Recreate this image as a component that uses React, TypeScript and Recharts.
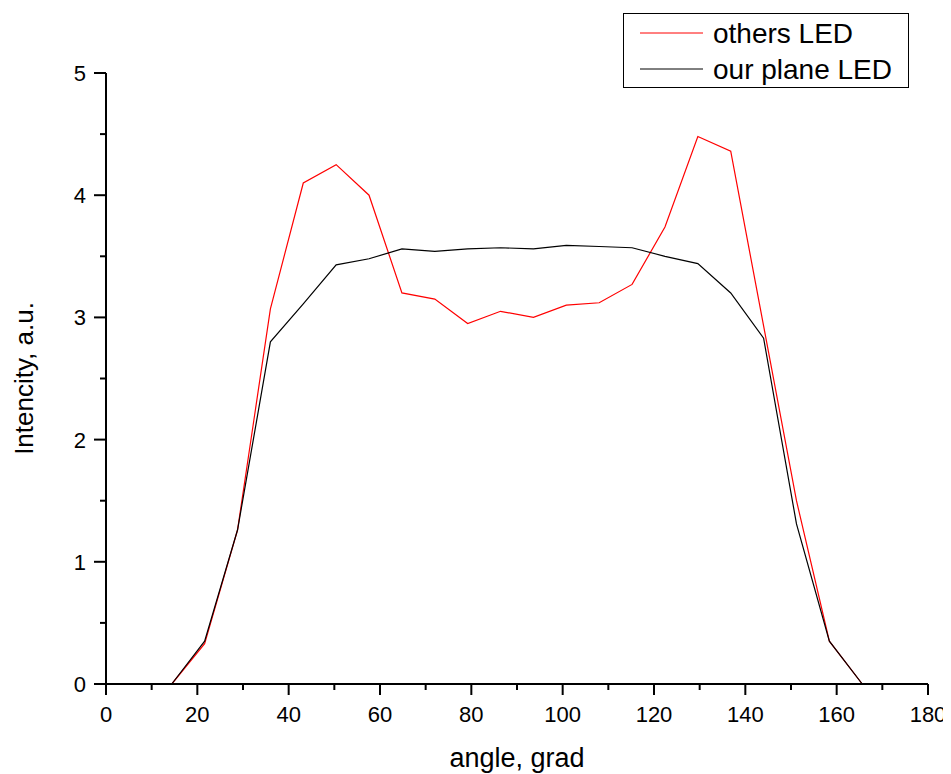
import { LineChart, Line, XAxis, YAxis, Legend } from "recharts";

// Angular intensity profile, sampled every 7.2 degrees
const angles = [14.4, 21.6, 28.8, 36, 43.2, 50.4, 57.6, 64.8, 72, 79.2, 86.4, 93.6, 100.8, 108, 115.2, 122.4, 129.6, 136.8, 144, 151.2, 158.4, 165.6];
const othersLed = [0, 0.33, 1.26, 3.07, 4.1, 4.25, 4.0, 3.2, 3.15, 2.95, 3.05, 3.0, 3.1, 3.12, 3.27, 3.74, 4.48, 4.36, 2.93, 1.5, 0.35, 0];
const ourPlaneLed = [0, 0.35, 1.26, 2.8, 3.11, 3.43, 3.48, 3.56, 3.54, 3.56, 3.57, 3.56, 3.59, 3.58, 3.57, 3.5, 3.44, 3.2, 2.83, 1.31, 0.35, 0];

const xTicks = [0, 10, 20, 30, 40, 50, 60, 70, 80, 90, 100, 110, 120, 130, 140, 150, 160, 170, 180];
const yTicks = [0, 0.5, 1, 1.5, 2, 2.5, 3, 3.5, 4, 4.5, 5];

const data = angles.map((angle, i) => ({ angle, others: othersLed[i], ours: ourPlaneLed[i] }));

const FONT = "'Liberation Sans', Arial, sans-serif";

const XTick = ({ x, y, payload }: any) => {
  const major = payload.value % 20 === 0;
  return (
    <g>
      <line x1={x} x2={x} y1={y} y2={y + (major ? 11 : 6)} stroke="#000" strokeWidth={2} />
      {major && (
        <text x={x} y={y + 38} textAnchor="middle" fontSize={22} fontFamily={FONT} fill="#000">
          {payload.value}
        </text>
      )}
    </g>
  );
};

const YTick = ({ x, y, payload }: any) => {
  const major = Number.isInteger(payload.value);
  return (
    <g>
      <line x1={x} x2={x - (major ? 12 : 6)} y1={y} y2={y} stroke="#000" strokeWidth={2} />
      {major && (
        <text x={x - 20} y={y} dy="0.36em" textAnchor="end" fontSize={22} fontFamily={FONT} fill="#000">
          {payload.value}
        </text>
      )}
    </g>
  );
};

const YTitle = ({ viewBox }: any) => {
  const cy = viewBox.y + viewBox.height / 2;
  return (
    <text x={25} y={cy} transform={`rotate(-90 25 ${cy})`} textAnchor="middle" fontSize={26} fontFamily={FONT} fill="#000">
      Intencity, a.u.
    </text>
  );
};

const LegendBox = () => (
  <svg width={286} height={75}>
    <rect x={0.5} y={0.5} width={285} height={74} fill="#fff" stroke="#000" strokeWidth={1} />
    <line x1={17} x2={80} y1={20} y2={20} stroke="#ff0000" strokeWidth={1} />
    <line x1={17} x2={80} y1={56} y2={56} stroke="#000" strokeWidth={1} />
    <text x={90} y={30} fontSize={28} fontFamily={FONT} fill="#000">others LED</text>
    <text x={90} y={66} fontSize={28} fontFamily={FONT} fill="#000">our plane LED</text>
  </svg>
);

export default function App() {
  return (
    <LineChart width={943} height={766} data={data} margin={{ top: 65, right: 23, left: 0, bottom: 0 }}>
      <XAxis
        type="number"
        dataKey="angle"
        domain={[0, 180]}
        ticks={xTicks}
        interval={0}
        height={90}
        tickSize={0}
        tickMargin={0}
        tickLine={false}
        tick={<XTick />}
        axisLine={{ stroke: "#000", strokeWidth: 2 }}
        label={{ value: "angle, grad", position: "insideBottom", offset: 7, fontSize: 27, fontFamily: FONT, fill: "#000" }}
      />
      <YAxis
        type="number"
        domain={[0, 5]}
        ticks={yTicks}
        interval={0}
        width={98}
        tickSize={0}
        tickMargin={0}
        tickLine={false}
        tick={<YTick />}
        axisLine={{ stroke: "#000", strokeWidth: 2 }}
        label={<YTitle />}
      />
      <Legend
        layout="horizontal"
        verticalAlign="middle"
        content={<LegendBox />}
        wrapperStyle={{ top: 5, left: 615, width: 286, height: 75 }}
      />
      <Line type="linear" dataKey="others" name="others LED" stroke="#ff0000" strokeWidth={1.2} dot={false} activeDot={false} isAnimationActive={false} />
      <Line type="linear" dataKey="ours" name="our plane LED" stroke="#000" strokeWidth={1.2} dot={false} activeDot={false} isAnimationActive={false} />
    </LineChart>
  );
}
